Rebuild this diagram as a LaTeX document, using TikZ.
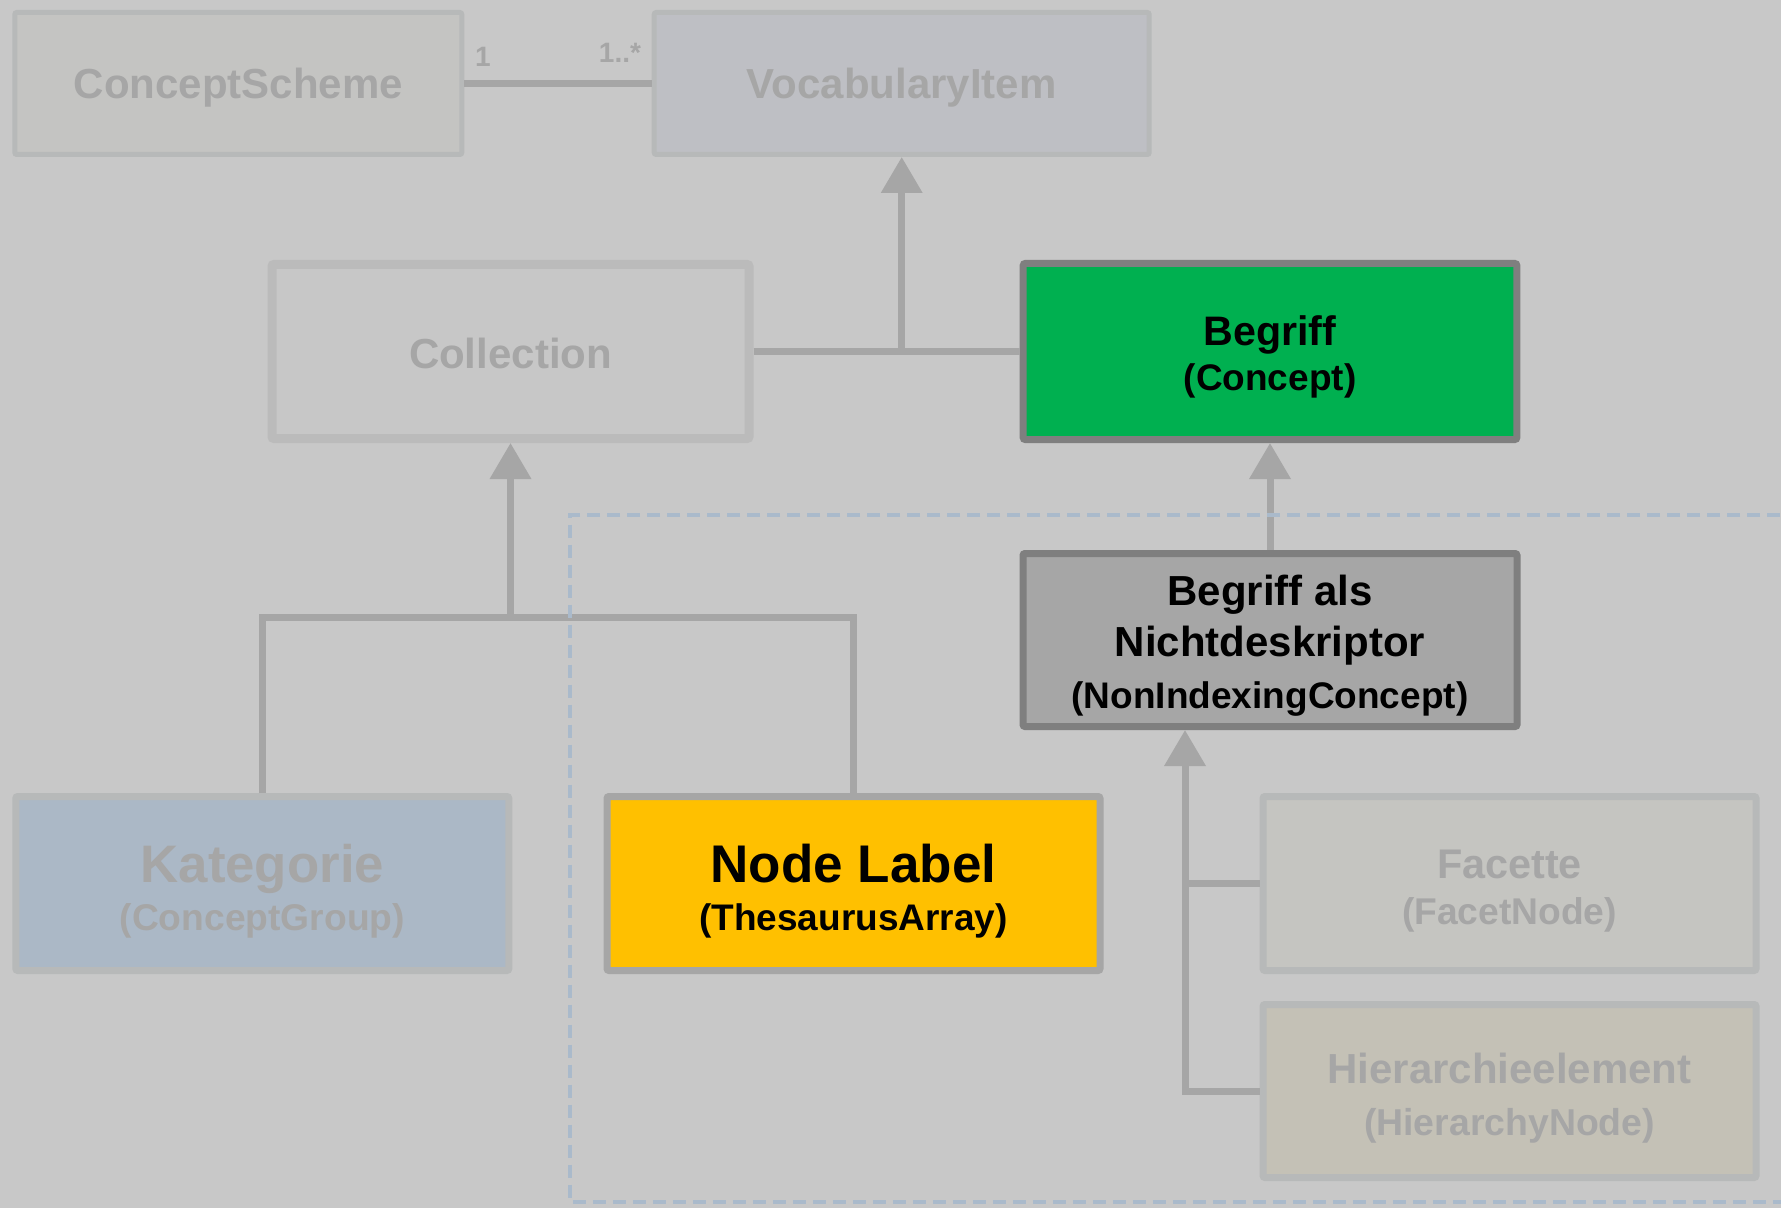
\documentclass[tikz,border=0pt]{standalone}
\usepackage{fontspec}
\setmainfont{Liberation Sans}
\usetikzlibrary{arrows.meta}
\definecolor{bg}{HTML}{C8C8C8}
\definecolor{faded}{HTML}{A6A6A6}
\definecolor{connc}{HTML}{A6A6A6}
\definecolor{paleborder}{HTML}{B7B9B9}
\definecolor{csfill}{HTML}{C4C4C2}
\definecolor{vifill}{HTML}{BEBFC4}
\definecolor{colfill}{HTML}{C7C7C7}
\definecolor{colborder}{HTML}{BBBBBB}
\definecolor{begfill}{HTML}{00B050}
\definecolor{darkborder}{HTML}{7F7F7F}
\definecolor{nifill}{HTML}{A6A6A6}
\definecolor{katfill}{HTML}{ABB8C6}
\definecolor{nlfill}{HTML}{FFC000}
\definecolor{facfill}{HTML}{C5C5C1}
\definecolor{hierfill}{HTML}{C4C1B6}
\definecolor{dashc}{HTML}{AABACB}
\begin{document}
\begin{tikzpicture}[x=0.5pt,y=-0.5pt,
  box/.style={draw, rectangle, rounded corners=1pt, inner sep=0pt, line width=3.5pt},
  fadedbox/.style={box, draw=paleborder},
  txt/.style={align=center, inner sep=0pt},
  conn/.style={draw=connc, line width=3.5pt},
  tip/.style={-{Triangle[length=18pt,width=20pt]}},
  mult/.style={text=faded, font=\bfseries\fontsize{14}{16}\selectfont, inner sep=0pt},
  dashline/.style={draw=dashc, line width=2pt, dash pattern=on 6.5pt off 3.5pt}
]
\useasboundingbox[fill=bg] (0,0) rectangle (1781,1208);

% top row
\node[fadedbox, fill=csfill, line width=2.5pt, minimum width=223.5pt, minimum height=71pt] (CS) at (238.3,83.5) {};
\node[txt, text=faded, font=\bfseries\fontsize{21}{25}\selectfont] (CS-t) at ([yshift=-2.3pt]CS.center) {ConceptScheme};
\node[fadedbox, fill=vifill, line width=2.5pt, minimum width=247.5pt, minimum height=71pt] (VI) at (901.7,83.5) {};
\node[txt, text=faded, font=\bfseries\fontsize{21}{25}\selectfont] (VI-t) at ([yshift=-2.3pt]VI.center) {VocabularyItem};

% middle row
\node[box, draw=colborder, fill=colfill, line width=4.5pt, minimum width=238.5pt, minimum height=87pt] (Col) at (510.5,351.5) {};
\node[txt, text=faded, font=\bfseries\fontsize{21}{25}\selectfont] (Col-t) at ([yshift=-1.1pt]Col.center) {Collection};
\node[box, draw=darkborder, fill=begfill, minimum width=246.8pt, minimum height=88pt] (Beg) at (1270,351.5) {};
\node[txt, text=black, font=\bfseries\fontsize{18.5}{22.6}\selectfont] (Beg-t) at ([yshift=-2.8pt]Beg.center)
      {{\fontsize{20.6}{22.6}\selectfont Begriff}\\(Concept)};

\node[box, draw=darkborder, fill=nifill, minimum width=247pt, minimum height=86.5pt] (NonIdx) at (1270,640) {};
\node[txt, text=black, font=\bfseries\fontsize{21}{25.6}\selectfont] (NonIdx-t) at ([yshift=-2.8pt]NonIdx.center)
      {Begriff als\\Nichtdeskriptor\\{\fontsize{18.5}{25.6}\selectfont (NonIndexingConcept)}};

% lower row
\node[box, draw=paleborder, fill=katfill, minimum width=246.5pt, minimum height=87pt] (Kat) at (262.3,883.5) {};
\node[txt, text=faded, font=\bfseries\fontsize{18.6}{24}\selectfont] (Kat-t) at ([yshift=-3.7pt]Kat.center)
      {{\fontsize{26.4}{24}\selectfont Kategorie}\\(ConceptGroup)};
\node[box, draw=faded, fill=nlfill, minimum width=246.5pt, minimum height=87pt] (NL) at (853.5,883.5) {};
\node[txt, text=black, font=\bfseries\fontsize{18.5}{24}\selectfont] (NL-t) at ([yshift=-3.7pt]NL.center)
      {{\fontsize{26.5}{24}\selectfont Node Label}\\(ThesaurusArray)};
\node[fadedbox, fill=facfill, minimum width=246.5pt, minimum height=87pt] (Fac) at (1509.5,883.5) {};
\node[txt, text=faded, font=\bfseries\fontsize{18.6}{22.9}\selectfont] (Fac-t) at ([yshift=-4pt]Fac.center)
      {{\fontsize{20.7}{22.9}\selectfont Facette}\\(FacetNode)};
\node[fadedbox, fill=hierfill, minimum width=246.5pt, minimum height=86.5pt] (Hier) at (1509.5,1091) {};
\node[txt, text=faded, font=\bfseries\fontsize{18.7}{26}\selectfont] (Hier-t) at ([yshift=-3.4pt]Hier.center)
      {{\fontsize{21}{26}\selectfont Hierarchieelement}\\(HierarchyNode)};

% association
\draw[conn] (CS.east) -- (VI.west);
\node[mult] (m1) at (483,57) {1};
\node[mult] (m2) at (620,53) {1..*};

% generalisation to VocabularyItem
\draw[conn] (Col.east) -- (Beg.west);
\coordinate (vj) at (VI.south |- Beg.west);
\draw[conn, tip] (vj) -- (VI.south);

% NonIndexingConcept -> Concept
\draw[conn, tip] (NonIdx.north) -- (Beg.south);

% Collection tree
\coordinate (cj) at (510.5,617);
\draw[conn, tip] (cj) -- (Col.south);
\draw[conn] (Kat.north) |- (cj) -| (NL.north);

% NonIndexingConcept tree
\coordinate (nv) at (1185,1091);
\draw[conn, tip] (Hier.west) -- (nv) -- (nv |- NonIdx.south);
\draw[conn] (Fac.west) -- (Fac.west -| nv);

% dashed frame
\draw[dashline] (1800,514.5) -- (570,514.5) -- (570,1201.7) -- (1800,1201.7);
\end{tikzpicture}
\end{document}
